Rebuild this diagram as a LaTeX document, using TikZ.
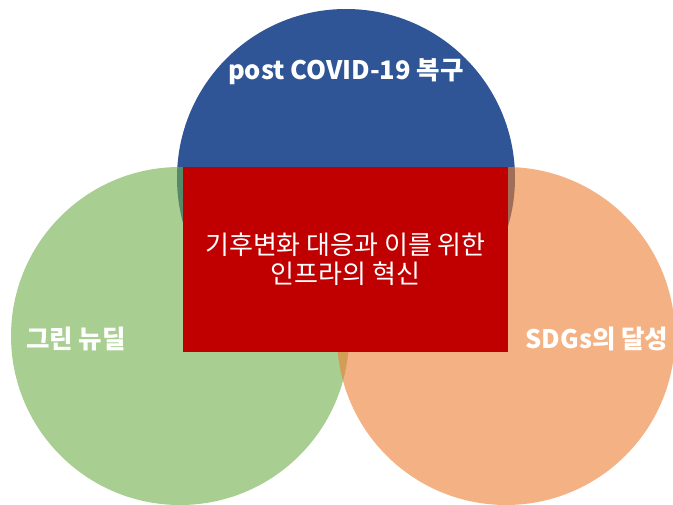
\documentclass[tikz,border=0pt]{standalone}
\usepackage{fontspec}
\setmainfont{Noto Sans CJK KR}
\definecolor{cblue}{HTML}{2F5597}
\definecolor{cgreen}{HTML}{70AD47}
\definecolor{corange}{HTML}{ED7D31}
\definecolor{cred}{HTML}{C00000}
\begin{document}
\begin{tikzpicture}[x=1pt,y=-1pt,
  venn/.style={circle,inner sep=0pt,minimum size=338pt,draw=none},
  lbl/.style={text=white,font=\bfseries\fontsize{25.5}{30}\selectfont,inner sep=0pt},
  core/.style={fill=cred,draw=none,inner sep=0pt,minimum width=325pt,minimum height=185pt,
    text=white,align=center,font=\fontsize{26}{30}\selectfont}]
\useasboundingbox (0,0) rectangle (673,505);
\clip (0,0) rectangle (673,505);
\node[venn,fill=cblue] (blue) at (346,178) {};
\node[venn,fill=cgreen,fill opacity=0.6] (green) at (180,336) {};
\node[venn,fill=corange,fill opacity=0.6] (orange) at (506,336) {};
\node[core] (center) at (345.5,259.5) {기후변화 대응과 이를 위한\\[-1pt]인프라의 혁신};
\node[lbl] (tblue) at (346,72) {post COVID-19 복구};
\node[lbl] (tgreen) at (76,339) {그린 뉴딜};
\node[lbl] (torange) at (597,339) {SDGs의 달성};
\end{tikzpicture}
\end{document}
